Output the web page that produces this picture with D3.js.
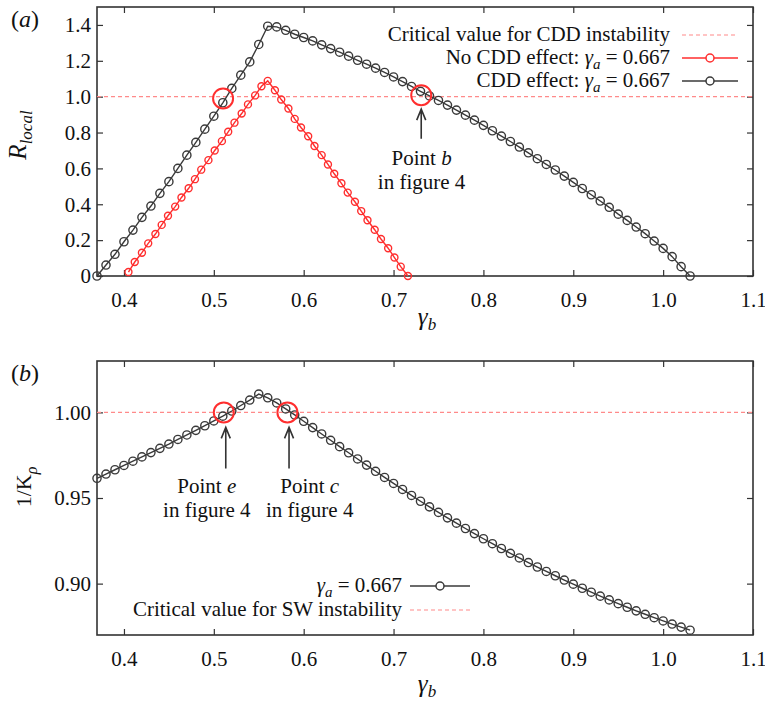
<!DOCTYPE html>
<html>
<head>
<meta charset="utf-8">
<script src="https://cdn.jsdelivr.net/npm/d3@7"></script>
<style>
  body { margin: 0; background: #fff; }
  svg { display: block; }
  text { font-family: "Liberation Serif", "Times New Roman", serif; fill: #111; }
</style>
</head>
<body>
<div id="chart"></div>
<script>
// gamma_b grid used by the CDD-effect curves (both panels)
const gammaB = [0.37, 0.38, 0.39, 0.40, 0.41, 0.42, 0.43, 0.44, 0.45, 0.46,
  0.47, 0.48, 0.49, 0.50, 0.51, 0.52, 0.53, 0.54, 0.55, 0.56,
  0.57, 0.58, 0.59, 0.60, 0.61, 0.62, 0.63, 0.64, 0.65, 0.66,
  0.67, 0.68, 0.69, 0.70, 0.71, 0.72, 0.73, 0.74, 0.75, 0.76,
  0.77, 0.78, 0.79, 0.80, 0.81, 0.82, 0.83, 0.84, 0.85, 0.86,
  0.87, 0.88, 0.89, 0.90, 0.91, 0.92, 0.93, 0.94, 0.95, 0.96,
  0.97, 0.98, 0.99, 1.00, 1.01, 1.02, 1.03];

// panel (a): R_local with CDD effect
const rLocalCDD = [0.000, 0.061, 0.121, 0.191, 0.256, 0.327, 0.390, 0.461, 0.526, 0.600,
  0.674, 0.745, 0.819, 0.891, 0.966, 1.046, 1.120, 1.194, 1.291, 1.393,
  1.389, 1.370, 1.348, 1.330, 1.311, 1.289, 1.268, 1.248, 1.226, 1.203,
  1.181, 1.159, 1.135, 1.110, 1.084, 1.057, 1.030, 1.004, 0.979, 0.953,
  0.925, 0.897, 0.869, 0.840, 0.810, 0.780, 0.750, 0.719, 0.687, 0.654,
  0.622, 0.591, 0.557, 0.522, 0.488, 0.453, 0.418, 0.383, 0.345, 0.310,
  0.273, 0.236, 0.195, 0.154, 0.108, 0.052, 0.000];

// panel (a): no CDD effect (own gamma_b grid)
const gammaBNoCDD = [0.405, 0.412, 0.420, 0.427, 0.435, 0.442, 0.449, 0.457, 0.464, 0.472,
  0.479, 0.486, 0.494, 0.501, 0.509, 0.516, 0.523, 0.531, 0.538, 0.546,
  0.553, 0.560, 0.568, 0.575, 0.583, 0.590, 0.597, 0.605, 0.612, 0.620,
  0.627, 0.634, 0.642, 0.649, 0.657, 0.664, 0.671, 0.679, 0.686, 0.694,
  0.701, 0.708, 0.716];
const rLocalNoCDD = [0.022, 0.078, 0.130, 0.182, 0.234, 0.285, 0.336, 0.387, 0.438, 0.489,
  0.540, 0.593, 0.646, 0.700, 0.752, 0.804, 0.855, 0.906, 0.957, 1.007,
  1.058, 1.088, 1.036, 0.984, 0.934, 0.876, 0.828, 0.779, 0.725, 0.674,
  0.622, 0.570, 0.517, 0.465, 0.414, 0.362, 0.311, 0.258, 0.206, 0.155,
  0.103, 0.052, 0.000];

// panel (b): 1/K_rho
const invKrho = [0.9615, 0.9640, 0.9665, 0.9690, 0.9715, 0.9740, 0.9765, 0.9790, 0.9815, 0.9842,
  0.9868, 0.9895, 0.9922, 0.9950, 0.9978, 1.0008, 1.0040, 1.0072, 1.0107, 1.0085,
  1.0055, 1.0020, 0.9985, 0.9948, 0.9911, 0.9874, 0.9837, 0.9800, 0.9764, 0.9728,
  0.9692, 0.9656, 0.9620, 0.9585, 0.9550, 0.9515, 0.9481, 0.9448, 0.9416, 0.9384,
  0.9353, 0.9322, 0.9292, 0.9262, 0.9233, 0.9205, 0.9177, 0.9150, 0.9123, 0.9097,
  0.9071, 0.9046, 0.9021, 0.8997, 0.8973, 0.8950, 0.8927, 0.8905, 0.8883, 0.8862,
  0.8841, 0.8821, 0.8801, 0.8782, 0.8764, 0.8746, 0.8728];

const xTicks = [0.4, 0.5, 0.6, 0.7, 0.8, 0.9, 1.0, 1.1];
const yTicksA = [0, 0.2, 0.4, 0.6, 0.8, 1.0, 1.2, 1.4];
const yTicksB = [0.90, 0.95, 1.00];
const criticalValue = 1.0;

const width = 765, height = 705;
const svg = d3.select("#chart").append("svg")
    .attr("width", width)
    .attr("height", height);

const x = d3.scaleLinear().domain([0.37, 1.1]).range([97, 753]);
const yA = d3.scaleLinear().domain([0, 1.5]).range([276, 7]);
const yB = d3.scaleLinear().domain([0.87, 1.03]).range([635, 361]);

const black = "#3a3a3a", red = "#ff2e2e", pink = "#ff8a8a";

function drawAxes(y, yTicks, fmt) {
    const [y0, y1] = y.range();
    const [x0, x1] = x.range();
    const g = svg.append("g");
    g.append("g").attr("transform", `translate(0,${y0})`)
        .call(d3.axisBottom(x).tickValues(xTicks).tickSize(-6).tickPadding(16).tickFormat(d3.format(".1f")));
    g.append("g").attr("transform", `translate(0,${y1})`)
        .call(d3.axisTop(x).tickValues(xTicks).tickSize(-6).tickFormat(""));
    g.append("g").attr("transform", `translate(${x0},0)`)
        .call(d3.axisLeft(y).tickValues(yTicks).tickSize(-6).tickPadding(6).tickFormat(fmt));
    g.append("g").attr("transform", `translate(${x1},0)`)
        .call(d3.axisRight(y).tickValues(yTicks).tickSize(-6).tickFormat(""));
    g.selectAll(".domain").remove();
    g.selectAll(".tick line").attr("stroke", "#333").attr("stroke-width", 1.2);
    g.selectAll(".tick text").style("font-size", "21px").attr("fill", "#111");
    g.append("rect")
        .attr("x", x0).attr("y", y1)
        .attr("width", x1 - x0).attr("height", y0 - y1)
        .attr("fill", "none").attr("stroke", "#333").attr("stroke-width", 1.6);
}

function drawCritical(y) {
    svg.append("line")
        .attr("x1", x.range()[0]).attr("x2", x.range()[1])
        .attr("y1", y(criticalValue)).attr("y2", y(criticalValue))
        .attr("stroke", pink).attr("stroke-width", 1.2).attr("stroke-dasharray", "4,3");
}

function drawSeries(xs, ys, y, color, r) {
    const pts = xs.map((d, i) => [d, ys[i]]);
    svg.append("path").datum(pts)
        .attr("d", d3.line().x(d => x(d[0])).y(d => y(d[1])))
        .attr("fill", "none").attr("stroke", color).attr("stroke-width", 1.4);
    svg.append("g").selectAll("circle").data(pts).join("circle")
        .attr("cx", d => x(d[0])).attr("cy", d => y(d[1]))
        .attr("r", r)
        .attr("fill", "none").attr("stroke", color).attr("stroke-width", 1.4);
}

// gamma with subscript, then the rest
function gammaSub(t, sub, rest, size) {
    t.append("tspan").style("font-style", "italic").text("γ");
    t.append("tspan").style("font-style", "italic").style("font-size", size + "px").attr("dy", 5).text(sub);
    if (rest) t.append("tspan").attr("dy", -5).text(rest);
}

function legendRow(tx, lx0, lx1, ly, label, color, dashed, withGamma) {
    const t = svg.append("text").attr("x", tx).attr("y", ly + 6)
        .attr("text-anchor", "end").style("font-size", "21px");
    if (withGamma) {
        t.append("tspan").text(label);
        gammaSub(t, "a", " = 0.667", 15);
    } else {
        t.text(label);
    }
    svg.append("line").attr("x1", lx0).attr("x2", lx1).attr("y1", ly).attr("y2", ly)
        .attr("stroke", color).attr("stroke-width", dashed ? 1.2 : 1.5)
        .attr("stroke-dasharray", dashed ? "4,3" : null);
    if (!dashed) {
        svg.append("circle").attr("cx", (lx0 + lx1) / 2).attr("cy", ly).attr("r", 4)
            .attr("fill", "#fff").attr("stroke", color).attr("stroke-width", 1.5);
    }
}

function ring(cx, cy, y) {
    svg.append("circle").attr("cx", x(cx)).attr("cy", y(cy)).attr("r", 10)
        .attr("fill", "none").attr("stroke", red).attr("stroke-width", 2);
}

function arrow(ax, y, topOff, botOff) {
    const px = x(ax), tip = y(criticalValue) + topOff, base = y(criticalValue) + botOff;
    svg.append("path")
        .attr("d", `M${px},${base}L${px},${tip}M${px - 4.5},${tip + 11}L${px},${tip}L${px + 4.5},${tip + 11}`)
        .attr("fill", "none").attr("stroke", "#333").attr("stroke-width", 1.6);
}

function note(tx, ty, letter) {
    const t = svg.append("text").attr("x", tx).attr("y", ty)
        .attr("text-anchor", "middle").style("font-size", "21px");
    t.append("tspan").text("Point ");
    t.append("tspan").style("font-style", "italic").text(letter);
    svg.append("text").attr("x", tx).attr("y", ty + 24)
        .attr("text-anchor", "middle").style("font-size", "21px").text("in figure 4");
}

// ---------- panel (a) ----------
drawAxes(yA, yTicksA, d => d === 0 ? "0" : d3.format(".1f")(d));
drawCritical(yA);
drawSeries(gammaBNoCDD, rLocalNoCDD, yA, red, 3.5);
drawSeries(gammaB, rLocalCDD, yA, black, 4.1);

legendRow(670, 682, 738, 35, "Critical value for CDD instability", pink, true, false);
legendRow(670, 682, 738, 58, "No CDD effect: ", red, false, true);
legendRow(670, 682, 738, 81, "CDD effect: ", black, false, true);

ring(0.5103, 0.990, yA);
ring(0.7308, 1.008, yA);
arrow(0.7308, yA, 12.5, 42);
note(x(0.7312), 165, "b");

// ---------- panel (b) ----------
drawAxes(yB, yTicksB, d3.format(".2f"));
drawCritical(yB);
drawSeries(gammaB, invKrho, yB, black, 4.1);

legendRow(402, 410, 470, 586, "", black, false, true);
legendRow(402, 410, 470, 610, "Critical value for SW instability", pink, true, false);

ring(0.5111, 1.0, yB);
ring(0.5819, 1.0, yB);
arrow(0.5133, yB, 15, 56);
arrow(0.5837, yB, 15, 56);
note(x(0.4922), 493, "e");
note(x(0.6067), 493, "c");

// ---------- titles ----------
[[yA, 325], [yB, 692]].forEach(([y, ty]) => {
    const t = svg.append("text").attr("x", 427).attr("y", ty)
        .attr("text-anchor", "middle").style("font-size", "25px");
    gammaSub(t, "b", null, 17);
});

const rl = svg.append("text").attr("transform", "translate(26,135) rotate(-90)")
    .attr("text-anchor", "middle").style("font-size", "25px");
rl.append("tspan").style("font-style", "italic").text("R");
rl.append("tspan").style("font-style", "italic").style("font-size", "17px").attr("dy", 6).text("local");

const kr = svg.append("text").attr("transform", "translate(31,487) rotate(-90)")
    .attr("text-anchor", "middle").style("font-size", "22px");
kr.append("tspan").text("1/K");
kr.append("tspan").style("font-style", "italic").style("font-size", "16px").attr("dy", 6).text("ρ");

[["a", 27], ["b", 381]].forEach(([lab, ty]) => {
    const t = svg.append("text").attr("x", 11).attr("y", ty).style("font-size", "24px");
    t.append("tspan").text("(");
    t.append("tspan").style("font-style", "italic").text(lab);
    t.append("tspan").text(")");
});
</script>
</body>
</html>
